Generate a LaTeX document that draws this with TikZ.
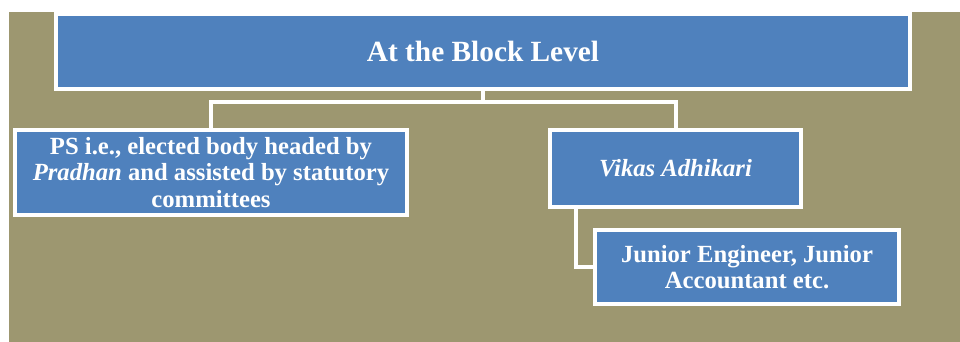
\documentclass[tikz,border=0pt]{standalone}
\usepackage{fontspec}
\setmainfont{Liberation Serif}
\definecolor{bgolive}{RGB}{157,151,112}
\definecolor{boxblue}{RGB}{79,129,189}
\tikzset{
  orgbox/.style={draw=white, line width=3pt, fill=boxblue, text=white,
    font=\bfseries\fontsize{18.5}{20}\selectfont, align=center, inner sep=0pt},
  conn/.style={draw=white, line width=3pt}
}
\begin{document}
\begin{tikzpicture}[x=0.75pt, y=-0.75pt]
\useasboundingbox (0,0) rectangle (960,342);
\fill[bgolive] (9,12) rectangle (960,342);
\node[orgbox, minimum width=640.5pt, minimum height=56.25pt,
  font=\bfseries\fontsize{22}{24}\selectfont] (top) at (483,51.5) {At the Block Level};
\node[orgbox, minimum width=294pt, minimum height=63.75pt] (ps) at (211,172.5)
  {PS i.e., elected body headed by\\\textit{Pradhan} and assisted by statutory\\committees};
\node[orgbox, minimum width=188.25pt, minimum height=57.75pt] (vikas) at (675.5,168.5)
  {\textit{Vikas Adhikari}};
\node[orgbox, minimum width=228pt, minimum height=55.5pt] (child) at (747,267)
  {Junior Engineer, Junior\\Accountant etc.};
\coordinate (j) at (483,102);
\coordinate (c) at (576,267);
\draw[conn] (top.south) -- (j);
\draw[conn] (ps.north) |- (j) -| (vikas.north);
\draw[conn] (c |- vikas.south) -- (c) -- (child.west);
\end{tikzpicture}
\end{document}
